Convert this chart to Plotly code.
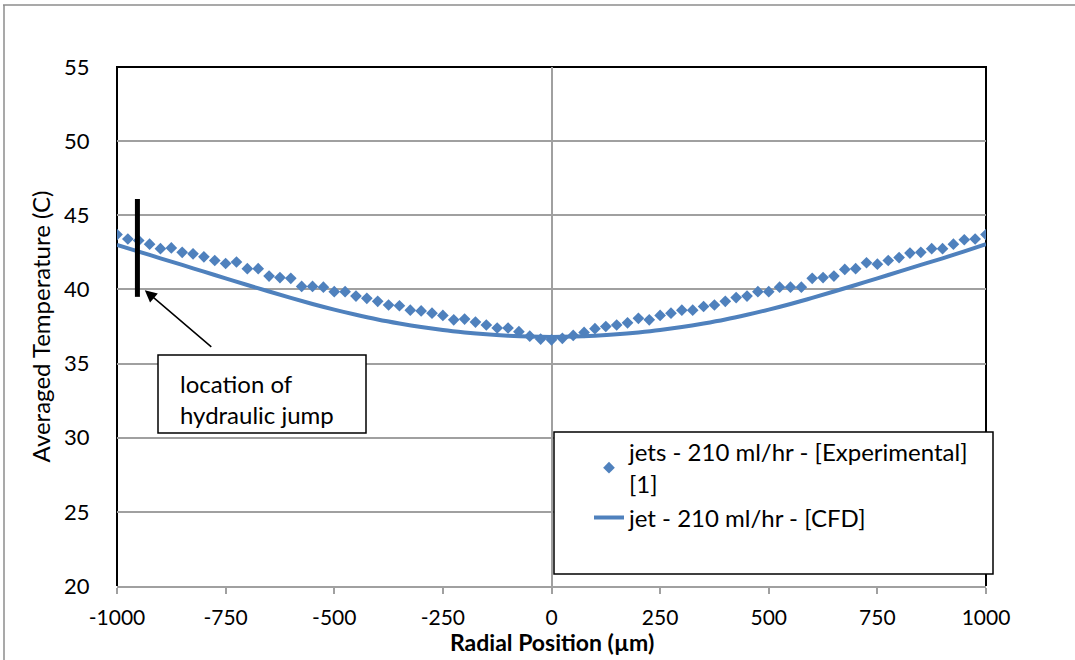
import plotly.graph_objects as go

# ---------------- data ----------------
exp_x = [-1000, -975, -950, -925, -900, -875, -850, -825, -800, -775, -750, -725, -700, -675,
         -650, -625, -600, -575, -550, -525, -500, -475, -450, -425, -400, -375, -350, -325,
         -300, -275, -250, -225, -200, -175, -150, -125, -100, -75, -50, -25, 0, 25, 50, 75,
         100, 125, 150, 175, 200, 225, 250, 275, 300, 325, 350, 375, 400, 425, 450, 475, 500,
         525, 550, 575, 600, 625, 650, 675, 700, 725, 750, 775, 800, 825, 850, 875, 900, 925,
         950, 975, 1000]
exp_t = [43.7, 43.4, 43.3, 43.05, 42.75, 42.8, 42.5, 42.4, 42.2, 41.95, 41.75, 41.85, 41.4, 41.4,
         40.9, 40.8, 40.75, 40.2, 40.2, 40.15, 39.85, 39.85, 39.55, 39.4, 39.2, 38.95, 38.9, 38.6,
         38.55, 38.4, 38.25, 37.95, 38.0, 37.8, 37.6, 37.4, 37.4, 37.15, 36.85, 36.65, 36.6, 36.7,
         36.9, 37.1, 37.35, 37.5, 37.6, 37.75, 38.05, 37.95, 38.25, 38.4, 38.6, 38.6, 38.85, 38.95,
         39.2, 39.45, 39.55, 39.85, 39.85, 40.15, 40.15, 40.15, 40.75, 40.8, 40.9, 41.35, 41.4,
         41.8, 41.7, 41.95, 42.15, 42.45, 42.5, 42.75, 42.75, 43.05, 43.35, 43.4, 43.7]

cfd_x = [-1000, -950, -900, -850, -800, -750, -700, -650, -600, -550, -500, -450, -400, -350,
         -300, -250, -200, -150, -100, -50, 0, 50, 100, 150, 200, 250, 300, 350, 400, 450, 500,
         550, 600, 650, 700, 750, 800, 850, 900, 950, 1000]
cfd_t = [43.0, 42.55, 42.1, 41.65, 41.2, 40.75, 40.3, 39.86, 39.43, 39.02, 38.64, 38.29, 37.97, 37.7,
         37.46, 37.26, 37.1, 36.97, 36.88, 36.82, 36.8, 36.82, 36.88, 36.97, 37.1, 37.26, 37.46, 37.7,
         37.97, 38.29, 38.64, 39.02, 39.43, 39.86, 40.3, 40.75, 41.2, 41.65, 42.1, 42.57, 43.05]

x_ticks = [-1000, -750, -500, -250, 0, 250, 500, 750, 1000]
y_ticks = [20, 25, 30, 35, 40, 45, 50, 55]

exp_name = "jets - 210 ml/hr - [Experimental]<br>[1]"
cfd_name = "jet - 210 ml/hr - [CFD]"
jump_x = -953
jump_y = [39.5, 46.1]

BLUE = "#4F81BD"
GRID = "#A0A0A0"
FONT = "Lato"
TXT = 24

# ---------------- figure ----------------
fig = go.Figure()
fig.add_trace(go.Scatter(x=exp_x, y=exp_t, mode="markers", name=exp_name,
                         marker=dict(symbol="diamond", size=9, color=BLUE)))
fig.add_trace(go.Scatter(x=cfd_x, y=cfd_t, mode="lines", name=cfd_name,
                         line=dict(color=BLUE, width=4, shape="spline")))

L, R, T, B = 117, 89, 67, 74
W, H = 1075, 660
PW, PH = W - L - R, H - T - B


def px(x):
    return (x - L) / PW


def py(y):
    return (H - B - y) / PH


shapes = [
    # outer frame
    dict(type="line", xref="paper", yref="paper", x0=px(3), x1=px(1075), y0=py(5), y1=py(5),
         line=dict(color="#8C8C8C", width=1.5), layer="above"),
    dict(type="line", xref="paper", yref="paper", x0=px(4), x1=px(4), y0=py(5), y1=py(660),
         line=dict(color="#8C8C8C", width=1.5), layer="above"),
    # plot border (left, top, right)
    dict(type="path", xref="paper", yref="paper", path="M0,0 L0,1 L1,1 L1,0",
         line=dict(color="black", width=2), layer="between"),
    # hydraulic jump marker
    dict(type="line", xref="x", yref="y", x0=jump_x, x1=jump_x, y0=jump_y[0], y1=jump_y[1],
         line=dict(color="black", width=5), layer="above"),
    # text box
    dict(type="rect", xref="paper", yref="paper", x0=px(158), x1=px(366), y0=py(433), y1=py(355),
         line=dict(color="black", width=1.5), fillcolor="white", layer="above"),
    # legend box
    dict(type="rect", xref="paper", yref="paper", x0=px(554), x1=px(993), y0=py(574), y1=py(432),
         line=dict(color="black", width=1.5), fillcolor="white", layer="above"),
]

annotations = [
    dict(x=-936, y=39.95, xref="x", yref="y", ax=68, ay=58, text="", showarrow=True,
         arrowhead=2, arrowsize=1.6, arrowwidth=1.5, arrowcolor="black"),
    dict(x=px(178), y=py(383), xref="paper", yref="paper", text="location of", showarrow=False,
         xanchor="left", yanchor="middle", font=dict(family=FONT, size=TXT, color="black")),
    dict(x=px(178), y=py(414), xref="paper", yref="paper", text="hydraulic jump", showarrow=False,
         xanchor="left", yanchor="middle", font=dict(family=FONT, size=TXT, color="black")),
    # x-axis title
    dict(x=0.5, y=py(642), xref="paper", yref="paper", text="<b>Radial Position (µm)</b>",
         showarrow=False, xanchor="center", yanchor="middle",
         font=dict(family=FONT, size=23, color="black")),
]

fig.update_layout(
    width=W, height=H,
    margin=dict(l=L, r=R, t=T, b=B),
    paper_bgcolor="white", plot_bgcolor="white",
    font=dict(family=FONT, size=21, color="black"),
    showlegend=True,
    legend=dict(x=px(589), y=py(430), xanchor="left", yanchor="top",
                bgcolor="rgba(0,0,0,0)", borderwidth=0,
                font=dict(family=FONT, size=TXT, color="black"),
                tracegroupgap=4),
    shapes=shapes,
    annotations=annotations,
    xaxis=dict(range=[-1000, 1000], tickvals=x_ticks, ticktext=[str(v) for v in x_ticks],
               showgrid=False, zeroline=True, zerolinecolor=GRID, zerolinewidth=1.5,
               showline=True, linecolor=GRID, linewidth=1.5,
               ticks="outside", ticklen=6, tickcolor=GRID, tickwidth=1.5,
               ticklabelstandoff=6,
               tickfont=dict(family=FONT, size=21)),
    yaxis=dict(range=[20, 55], tickvals=y_ticks, showgrid=True, gridcolor=GRID, gridwidth=1.5,
               zeroline=False, showline=False,
               ticks="outside", ticklen=22, tickcolor="rgba(0,0,0,0)",
               tickfont=dict(family=FONT, size=22),
               title=dict(text="Averaged Temperature (C)", standoff=6,
                          font=dict(family=FONT, size=TXT))),
)

fig.write_html("out.html")
